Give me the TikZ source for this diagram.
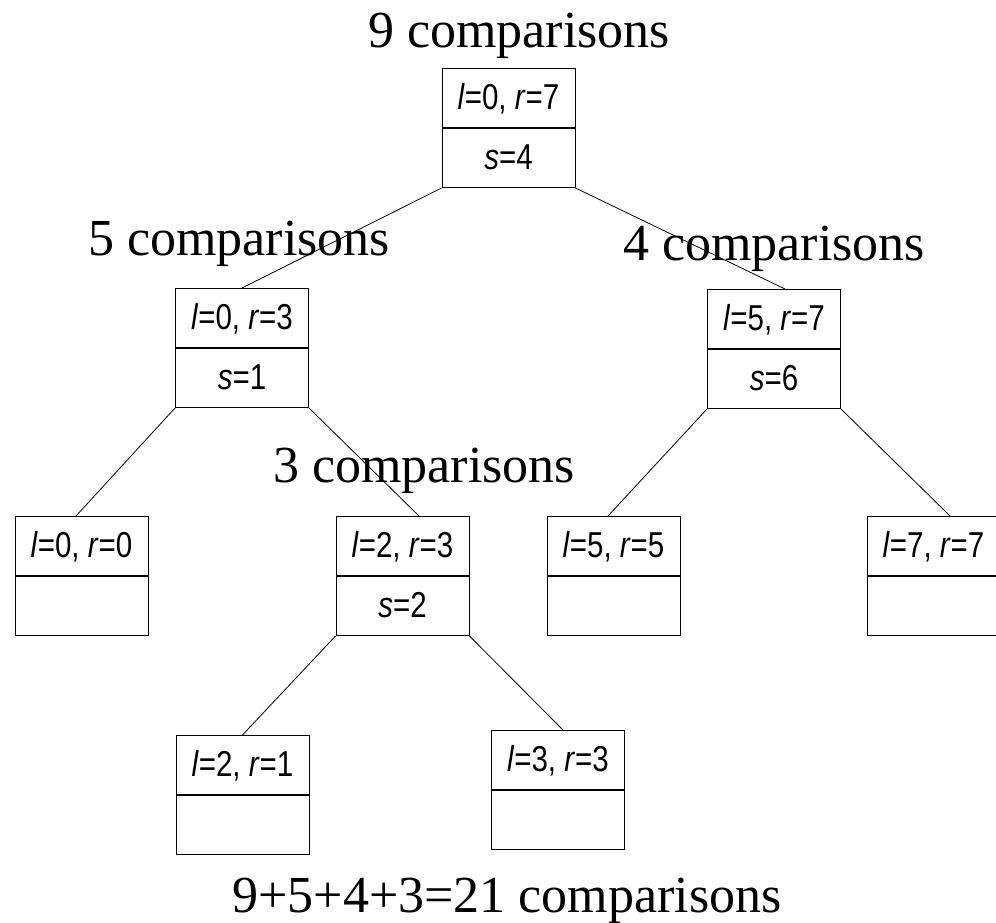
\documentclass[tikz,border=0pt]{standalone}
\usepackage{fontspec}
\setmainfont{Liberation Serif}
\newfontfamily\cellfont[FakeStretch=0.82]{Liberation Sans}
\begin{document}
\begin{tikzpicture}[x=1pt,y=-1pt,
  cell/.style={draw=black,line width=1pt,fill=white,inner sep=0pt,
    minimum width=133pt,text height=41pt,text depth=18pt,
    font=\cellfont\fontsize{36}{40}\selectfont,anchor=north},
  tag/.style={font=\fontsize{52}{60}\selectfont,anchor=base,inner sep=0pt},
  link/.style={draw=black,line width=0.8pt}]
\useasboundingbox (0,0) rectangle (996,922);
\clip (0,0) rectangle (996,922);

% level labels
\node[tag] (c9) at (519,47) {9 comparisons};
\node[tag] (c5) at (239,255) {5 comparisons};
\node[tag] (c4) at (774,260) {4 comparisons};
\node[tag] (c3) at (424,482) {3 comparisons};
\node[tag] (ctot) at (507,912) {9+5+4+3=21 comparisons};

% recursion tree: each call is a two-part box
\node[cell] (n07) at (508.5,68) {\textit{l}=0, \textit{r}=7};
\node[cell] (n07s) at (n07.south) {\textit{s}=4};

\node[cell] (n03) at (242,288) {\textit{l}=0, \textit{r}=3};
\node[cell] (n03s) at (n03.south) {\textit{s}=1};

\node[cell] (n57) at (774,289) {\textit{l}=5, \textit{r}=7};
\node[cell] (n57s) at (n57.south) {\textit{s}=6};

\node[cell] (n00) at (81.5,516) {\textit{l}=0, \textit{r}=0};
\node[cell] (n00s) at (n00.south) {};

\node[cell] (n23) at (402.5,516) {\textit{l}=2, \textit{r}=3};
\node[cell] (n23s) at (n23.south) {\textit{s}=2};

\node[cell] (n55) at (613.5,516) {\textit{l}=5, \textit{r}=5};
\node[cell] (n55s) at (n55.south) {};

\node[cell] (n77) at (933.5,516) {\textit{l}=7, \textit{r}=7};
\node[cell] (n77s) at (n77.south) {};

\node[cell] (n21) at (242.5,735) {\textit{l}=2, \textit{r}=1};
\node[cell] (n21s) at (n21.south) {};

\node[cell] (n33) at (558,730) {\textit{l}=3, \textit{r}=3};
\node[cell] (n33s) at (n33.south) {};

% tree edges
\draw[link] (n07s.south west) -- (n03.north);
\draw[link] (n07s.south east) -- ([xshift=11pt]n57.north);
\draw[link] (n03s.south west) -- ([xshift=-5.5pt]n00.north);
\draw[link] (n03s.south east) -- ([xshift=16.5pt]n23.north);
\draw[link] (n57s.south west) -- ([xshift=-5.5pt]n55.north);
\draw[link] (n57s.south east) -- ([xshift=16.5pt]n77.north);
\draw[link] (n23s.south west) -- (n21.north);
\draw[link] (n23s.south east) -- ([xshift=5pt]n33.north);
\end{tikzpicture}
\end{document}
